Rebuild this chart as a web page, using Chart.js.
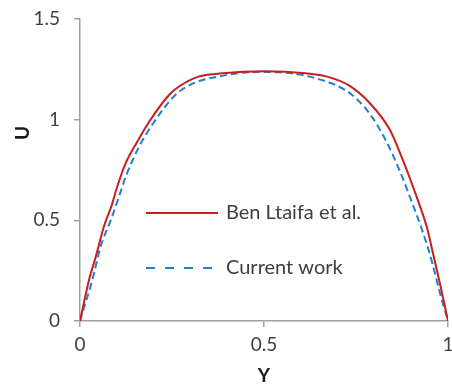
<!DOCTYPE html>
<html>
<head>
<meta charset="utf-8">
<script src="https://cdn.jsdelivr.net/npm/chart.js@4.4.1/dist/chart.umd.min.js"></script>
<style>
  html, body { margin: 0; padding: 0; background: #ffffff; }
  #wrap { width: 452px; height: 385px; }
</style>
</head>
<body>
<div id="wrap"><canvas id="c" width="452" height="385"></canvas></div>
<script>
// Velocity profile U across the channel (Y from wall to wall)
const refY = [0, 0.0245, 0.043, 0.065, 0.088, 0.097, 0.1245, 0.156, 0.188, 0.2425, 0.270, 0.324, 0.379, 0.506, 0.605, 0.669, 0.733, 0.787, 0.842, 0.875, 0.918, 0.942, 0.960, 0.980, 1.0];
const refU = [0, 0.204, 0.320, 0.469, 0.585, 0.643, 0.785, 0.892, 0.990, 1.124, 1.166, 1.215, 1.229, 1.240, 1.232, 1.215, 1.168, 1.083, 0.950, 0.810, 0.600, 0.469, 0.330, 0.170, 0];

const curY = [0, 0.0065, 0.0336, 0.056, 0.084, 0.106, 0.1245, 0.161, 0.200, 0.260, 0.315, 0.379, 0.433, 0.488, 0.542, 0.597, 0.651, 0.697, 0.738, 0.787, 0.833, 0.869, 0.905, 0.928, 0.951, 0.978, 1.0];
const curU = [0, 0.040, 0.204, 0.370, 0.502, 0.618, 0.718, 0.867, 0.985, 1.124, 1.186, 1.215, 1.232, 1.237, 1.235, 1.224, 1.200, 1.170, 1.125, 1.030, 0.890, 0.745, 0.575, 0.460, 0.330, 0.140, 0];

const seriesNames = ['Ben Ltaifa et al.', 'Current work'];
const xTicks = [0, 0.5, 1];
const xTickLabels = ['0', '0.5', '1'];
const yTicks = [0, 0.5, 1, 1.5];
const yTickLabels = ['0', '0.5', '1', '1.5'];
const xTitle = 'Y';
const yTitle = 'U';

const RED = '#c81e1e';
const BLUE = '#1f7fd0';
const AXIS = '#a0a0a0';
const TEXT = '#404040';
const FONT = 'Lato, "Open Sans", sans-serif';

const toPoints = (xs, ys) => xs.map((x, i) => ({ x: x, y: ys[i] }));

// Legend drawn inside the plot area, plus the rotated y-axis title
const innerDecor = {
  id: 'innerDecor',
  afterDraw(chart) {
    const ctx = chart.ctx;
    const a = chart.chartArea;
    const x0 = a.left + 66, x1 = a.left + 138, tx = a.left + 146;
    const rows = [
      { y: 213, color: RED, dash: [] },
      { y: 268, color: BLUE, dash: [9, 10] }
    ];
    ctx.save();
    rows.forEach((r, i) => {
      ctx.beginPath();
      ctx.setLineDash(r.dash);
      ctx.strokeStyle = r.color;
      ctx.lineWidth = 2;
      ctx.moveTo(x0, r.y);
      ctx.lineTo(x1, r.y);
      ctx.stroke();
      ctx.setLineDash([]);
      ctx.fillStyle = TEXT;
      ctx.font = '20px ' + FONT;
      ctx.textBaseline = 'middle';
      ctx.textAlign = 'left';
      ctx.fillText(seriesNames[i], tx, r.y);
    });
    // y-axis title
    ctx.translate(23, 133);
    ctx.rotate(-Math.PI / 2);
    ctx.font = 'bold 19px ' + FONT;
    ctx.fillStyle = '#1a1a1a';
    ctx.textAlign = 'center';
    ctx.textBaseline = 'middle';
    ctx.fillText(yTitle, 0, 0);
    ctx.restore();
  }
};

const fixScale = (size) => (s) => {
  if (s.isHorizontal()) { s.height = size; } else { s.width = size; }
  s.paddingLeft = 0; s.paddingRight = 0; s.paddingTop = 0; s.paddingBottom = 0;
};

new Chart(document.getElementById('c'), {
  type: 'scatter',
  data: {
    datasets: [
      {
        label: seriesNames[0],
        data: toPoints(refY, refU),
        showLine: true,
        borderColor: RED,
        backgroundColor: RED,
        borderWidth: 2,
        pointRadius: 0,
        cubicInterpolationMode: 'monotone'
      },
      {
        label: seriesNames[1],
        data: toPoints(curY, curU),
        showLine: true,
        borderColor: BLUE,
        backgroundColor: BLUE,
        borderWidth: 2,
        borderDash: [7, 4],
        pointRadius: 0,
        cubicInterpolationMode: 'monotone'
      }
    ]
  },
  options: {
    responsive: false,
    animation: false,
    devicePixelRatio: 1,
    layout: { padding: { top: 19, right: 4, left: 0, bottom: 0 } },
    plugins: {
      legend: { display: false },
      tooltip: { enabled: false }
    },
    scales: {
      x: {
        type: 'linear',
        min: 0, max: 1,
        afterBuildTicks: s => { s.ticks = xTicks.map(v => ({ value: v })); },
        afterFit: fixScale(64),
        grid: { display: true, drawOnChartArea: false, drawTicks: true, tickLength: 6, color: AXIS, lineWidth: 1.5 },
        border: { display: true, color: AXIS, width: 1.5 },
        ticks: { color: TEXT, font: { family: FONT, size: 19 }, padding: 6, maxRotation: 0,
                 callback: (v) => xTickLabels[xTicks.indexOf(v)] },
        title: { display: true, text: xTitle, color: '#1a1a1a', font: { family: FONT, size: 19, weight: 'bold', lineHeight: 1 }, padding: { top: 0, bottom: 0 } }
      },
      y: {
        type: 'linear',
        min: 0, max: 1.5,
        afterBuildTicks: s => { s.ticks = yTicks.map(v => ({ value: v })); },
        afterFit: fixScale(80),
        grid: { display: true, drawOnChartArea: false, drawTicks: true, tickLength: 6, color: AXIS, lineWidth: 1.5 },
        border: { display: true, color: AXIS, width: 1.5 },
        ticks: { color: TEXT, font: { family: FONT, size: 19 }, padding: 14,
                 callback: (v) => yTickLabels[yTicks.indexOf(v)] },
        title: { display: false }
      }
    }
  },
  plugins: [innerDecor]
});
</script>
</body>
</html>
